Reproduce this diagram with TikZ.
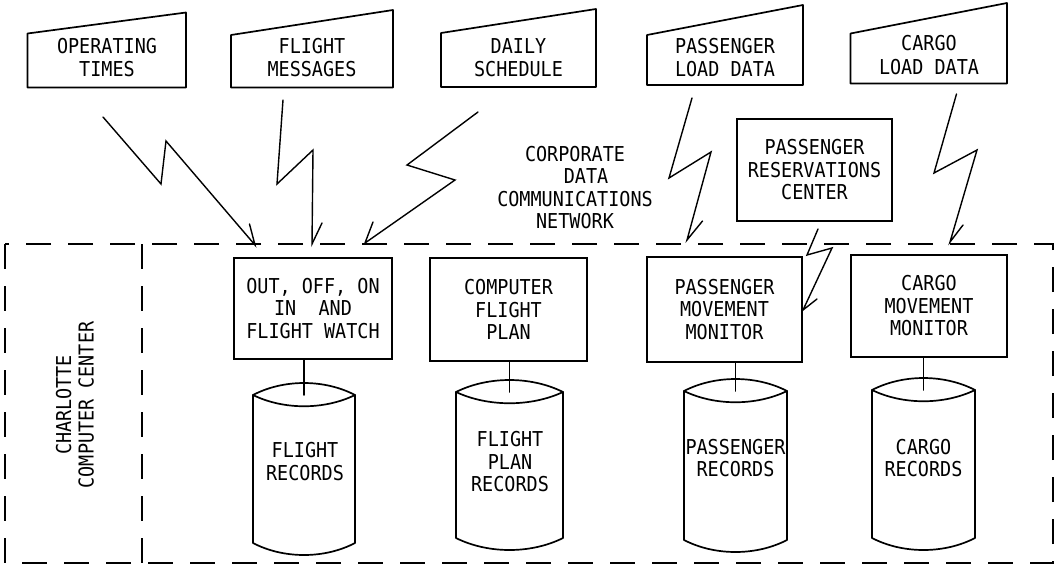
\documentclass[tikz,border=0pt]{standalone}
\usepackage{fontspec}
\setmainfont[FakeStretch=0.9]{DejaVu Sans Mono}
\newcommand\drumshape[4]{%
  \draw[ln] (#1,#3) .. controls ({#1+0.3*(#2-#1)},{#3-16}) and ({#2-0.3*(#2-#1)},{#3-16}) .. (#2,#3)
     .. controls ({#2-0.3*(#2-#1)},{#3+15}) and ({#1+0.3*(#2-#1)},{#3+15}) .. (#1,#3) -- cycle;
  \draw[ln] (#1,#3) -- (#1,#4) .. controls ({#1+0.3*(#2-#1)},{#4+16}) and ({#2-0.3*(#2-#1)},{#4+16}) .. (#2,#4) -- (#2,#3);
}
\begin{document}
\begin{tikzpicture}[x=1pt,y=-1pt,
  ln/.style={line width=1.7pt, line join=round, line cap=round},
  bolt/.style={line width=1.4pt, line join=miter, line cap=round},
  dashbox/.style={line width=1.6pt, dash pattern=on 25pt off 17pt},
  txt/.style={font=\fontsize{20.5}{22.5}\selectfont, align=center, inner sep=0pt},
  intxt/.style={font=\fontsize{20.5}{23.5}\selectfont, align=center, inner sep=0pt},
  proc/.style={draw, line width=1.7pt, font=\fontsize{20.5}{22.5}\selectfont, align=center, inner sep=0pt},
]
\useasboundingbox (0,0) rectangle (1057,574);

% input (manual) shapes
\draw[ln] (27.5,33.5) -- (186,12.5) -- (186,87.5) -- (27.5,87.5) -- cycle;
\node[intxt] (t1) at (107,57.5) {OPERATING\\TIMES};
\draw[ln] (231,35) -- (393,10) -- (393,87.5) -- (231,87.5) -- cycle;
\node[intxt] (t2) at (312,57.5) {FLIGHT\\MESSAGES};
\draw[ln] (441,33) -- (596,9) -- (596,87) -- (441,87) -- cycle;
\node[intxt] (t3) at (518.5,57.5) {DAILY\\SCHEDULE};
\draw[ln] (647,35) -- (803,5) -- (803,85) -- (647,85) -- cycle;
\node[intxt] (t4) at (725,57.5) {PASSENGER\\LOAD DATA};
\draw[ln] (850.5,33.5) -- (1007,3) -- (1007,83.5) -- (850.5,83.5) -- cycle;
\node[intxt] (t5) at (929,55) {CARGO\\LOAD DATA};

% network label
\node[txt] (net) at (575,187.5) {CORPORATE\\\hspace*{22pt}DATA\\COMMUNICATIONS\\NETWORK};

% reservations center
\node[proc, minimum width=155pt, minimum height=102pt] (prc) at (814.5,170) {PASSENGER\\RESERVATIONS\\CENTER};

% dashed enclosure
\draw[dashbox] (5,244) rectangle (1053,563);
\draw[dashbox] (142,244) -- (142,563);
\node[txt, rotate=90] (cc) at (75,405) {CHARLOTTE\\COMPUTER CENTER};

% processing boxes
\node[proc, minimum width=158pt, minimum height=101pt] (p1) at (313,308.5) {OUT, OFF, ON\\IN\ \ AND\\FLIGHT WATCH};
\node[proc, minimum width=157pt, minimum height=103pt] (p2) at (508.5,309.5) {COMPUTER\\FLIGHT\\PLAN};
\node[proc, minimum width=155pt, minimum height=105pt] (p3) at (724.5,309.5) {PASSENGER\\MOVEMENT\\MONITOR};
\node[proc, minimum width=156pt, minimum height=102pt] (p4) at (929,306) {CARGO\\MOVEMENT\\MONITOR};

% storage drums
\drumshape{253}{355}{395}{543}
\drumshape{456}{563}{392}{538}
\drumshape{684}{787}{391}{540}
\drumshape{872}{975}{390}{538}
\coordinate (c1) at (304,395);
\coordinate (c2) at (509.5,392);
\coordinate (c3) at (735.5,391);
\coordinate (c4) at (923.5,390);
\node[txt] (d1) at (305,461.5) {FLIGHT\\RECORDS};
\node[txt] (d2) at (510,462) {FLIGHT\\PLAN\\RECORDS};
\node[txt] (d3) at (735.5,458) {PASSENGER\\RECORDS};
\node[txt] (d4) at (923.5,458) {CARGO\\RECORDS};

\draw[ln] (c1 |- p1.south) -- (c1);
\draw[ln] (c2 |- p2.south) -- (c2);
\draw[ln] (c3 |- p3.south) -- (c3);
\draw[ln] (c4 |- p4.south) -- (c4);

% communication links (lightning)
\coordinate (s1) at (103,117);   \coordinate (a1) at (255,245);
\coordinate (s2) at (283,100);   \coordinate (a2) at (312,244);
\coordinate (s3) at (478,112);   \coordinate (a3) at (365,243);
\coordinate (s4) at (692,98);    \coordinate (a4) at (687,240);
\coordinate (s5) at (956.5,94);  \coordinate (a5) at (950,242);
\coordinate (s6) at (818,229);   \coordinate (a6) at (803,310);
\draw[bolt] (s1) -- (161,184) -- (166,141) -- (a1) -- (249.5,224);
\draw[bolt] (s2) -- (277,184) -- (313,150) -- (a2) -- (322,223);
\draw[bolt] (s3) -- (407,165) -- (455,180) -- (a3) -- (373,222);
\draw[bolt] (s4) -- (669,178) -- (711,152) -- (a4) -- (702.5,221);
\draw[bolt] (s5) -- (934,173) -- (977,150) -- (a5) -- (963,225);
\draw[bolt] (s6) -- (807,255) -- (832,248) -- (a6) -- (817,299);
\end{tikzpicture}
\end{document}
